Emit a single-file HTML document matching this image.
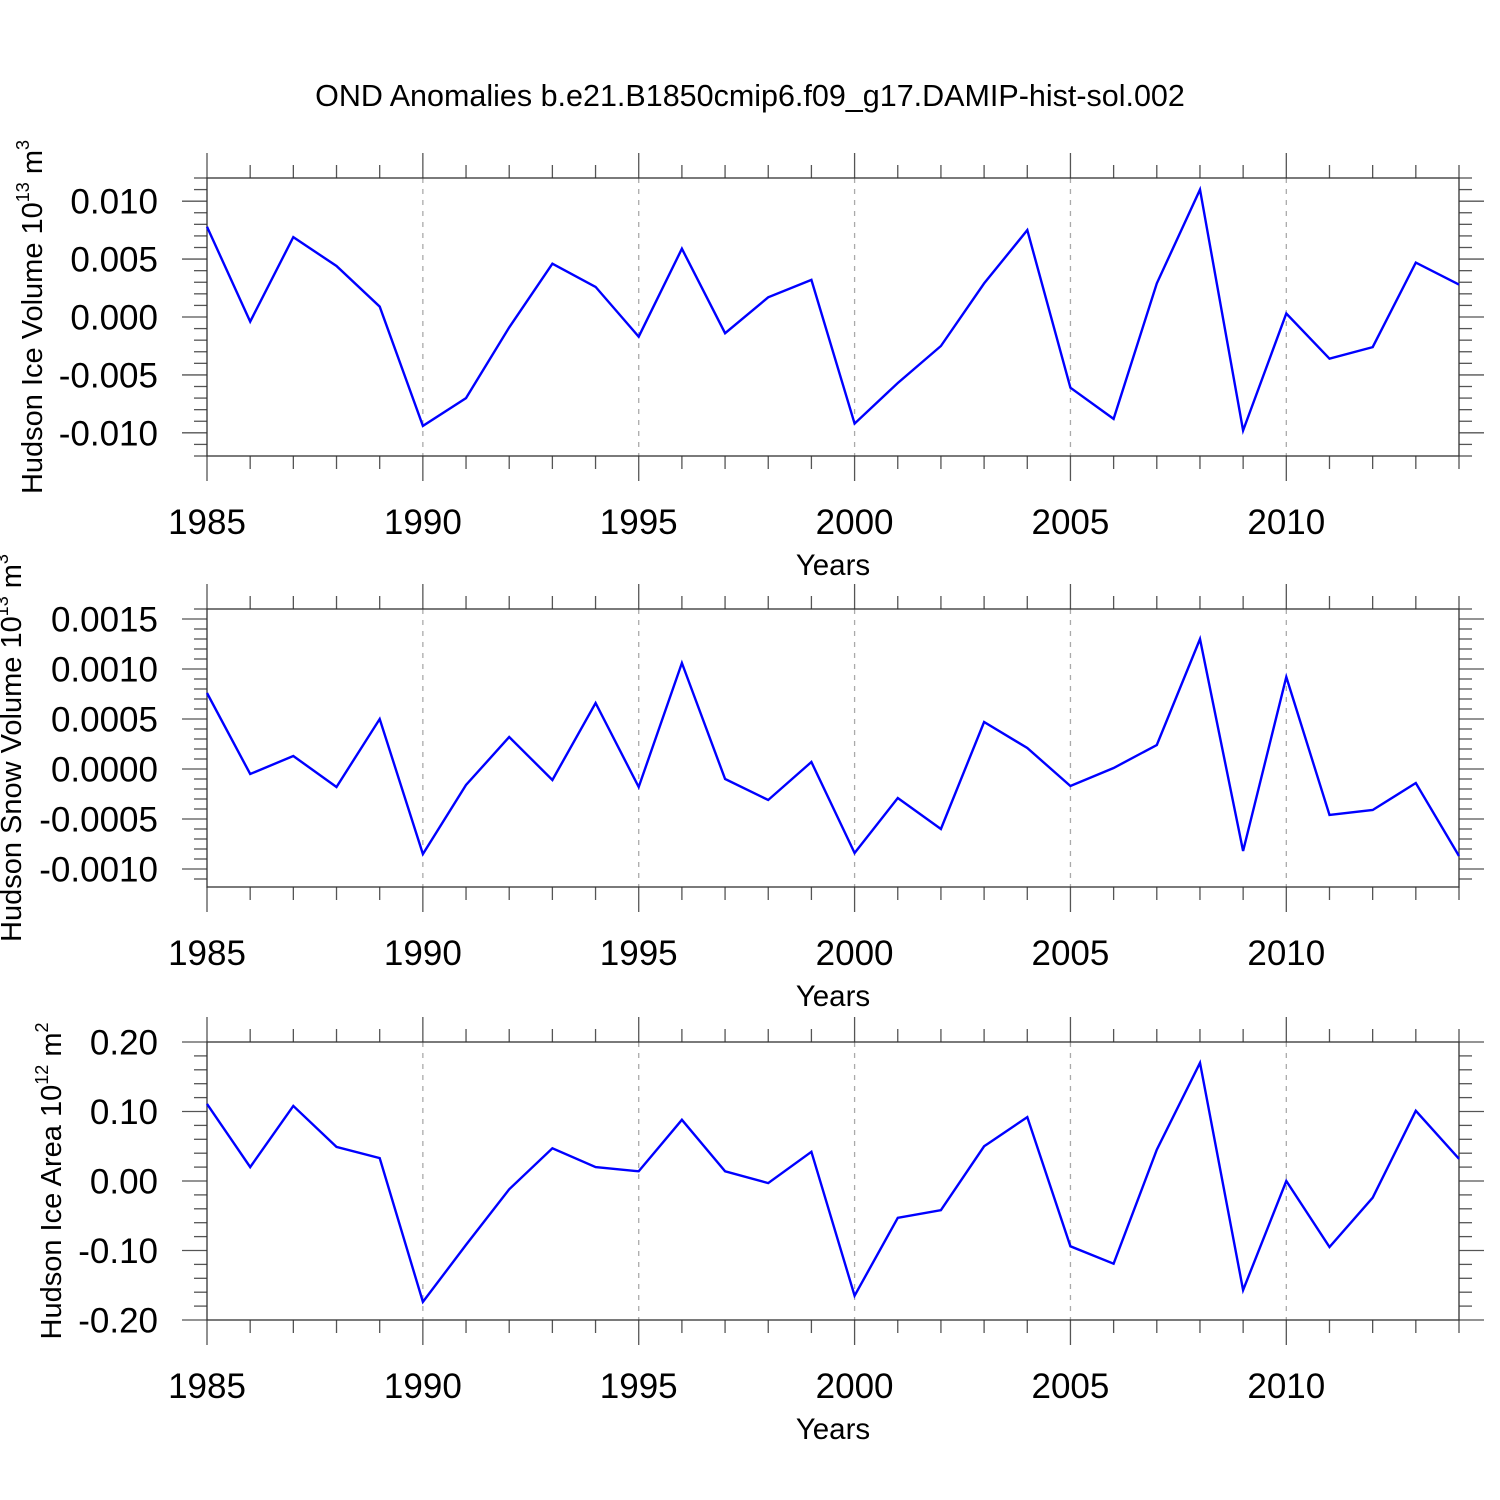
<!DOCTYPE html>
<html><head><meta charset="utf-8"><style>
html,body{margin:0;padding:0;background:#fff;}
svg{display:block;font-family:"Liberation Sans",sans-serif;}
</style></head><body>
<svg id="chart" width="1500" height="1500" viewBox="0 0 1500 1500" xmlns="http://www.w3.org/2000/svg">
<rect width="1500" height="1500" fill="#fff"/>
<text x="750" y="106" font-size="30.5" text-anchor="middle">OND Anomalies b.e21.B1850cmip6.f09_g17.DAMIP-hist-sol.002</text>
</svg>
<script>
const years = [1985,1986,1987,1988,1989,1990,1991,1992,1993,1994,1995,1996,1997,1998,1999,2000,2001,2002,2003,2004,2005,2006,2007,2008,2009,2010,2011,2012,2013,2014];
const iceVolume = [0.0078,-0.0004,0.0069,0.0044,0.0009,-0.0094,-0.0070,-0.0009,0.0046,0.0026,-0.0017,0.0059,-0.0014,0.0017,0.0032,-0.0092,-0.0057,-0.0025,0.0029,0.0075,-0.0061,-0.0088,0.0029,0.0110,-0.0098,0.0003,-0.0036,-0.0026,0.0047,0.0028];
const snowVolume = [0.00076,-0.00005,0.00013,-0.00018,0.00050,-0.00085,-0.00016,0.00032,-0.00011,0.00066,-0.00018,0.00106,-0.00010,-0.00031,0.00007,-0.00084,-0.00029,-0.00060,0.00047,0.00021,-0.00017,0.00001,0.00024,0.00130,-0.00082,0.00092,-0.00046,-0.00041,-0.00014,-0.00087];
const iceArea = [0.111,0.020,0.108,0.049,0.033,-0.174,-0.092,-0.012,0.047,0.020,0.014,0.088,0.014,-0.003,0.042,-0.165,-0.053,-0.042,0.050,0.092,-0.094,-0.119,0.045,0.170,-0.157,0.000,-0.095,-0.024,0.101,0.032];
const xTickLabels = ["1985","1990","1995","2000","2005","2010"];
const iceVolTicks = ["0.010","0.005","0.000","-0.005","-0.010"];
const snowTicks = ["0.0015","0.0010","0.0005","0.0000","-0.0005","-0.0010"];
const areaTicks = ["0.20","0.10","0.00","-0.10","-0.20"];

const NS="http://www.w3.org/2000/svg";
const svg=document.getElementById('chart');
function mk(tag,attrs,parent){const e=document.createElementNS(NS,tag);for(const k in attrs)e.setAttribute(k,attrs[k]);(parent||svg).appendChild(e);return e;}
const X0=207,X1=1459,XMIN=1985,XMAX=2014;
function xs(v){return X0+(v-XMIN)*(X1-X0)/(XMAX-XMIN);}

const panels=[
 {name:'ice-volume',data:iceVolume,ticks:iceVolTicks,top:178,bot:456,vmax:0.012,vmin:-0.012,minor:0.001,title:'Hudson Ice Volume 10',sup:'13',unit:' m',usup:'3',tx:42},
 {name:'snow-volume',data:snowVolume,ticks:snowTicks,top:609,bot:887,vmax:0.0016,vmin:-0.00118,minor:0.0001,title:'Hudson Snow Volume 10',sup:'13',unit:' m',usup:'3',tx:21},
 {name:'ice-area',data:iceArea,ticks:areaTicks,top:1042,bot:1320,vmax:0.2,vmin:-0.2,minor:0.02,title:'Hudson Ice Area 10',sup:'12',unit:' m',usup:'2',tx:61}
];
panels.forEach(p=>{
 const g=mk('g',{});
 
 
 const ys=v=>p.bot-(v-p.vmin)*(p.bot-p.top)/(p.vmax-p.vmin);
 for(let yr=1990;yr<=2010;yr+=5){
  const l=mk('line',{x1:xs(yr),x2:xs(yr),y1:p.top,y2:p.bot,stroke:'#aaa','stroke-width':1.3,'stroke-dasharray':'5,6'},g);
  
  
 }
 years.forEach(yr=>{
  const major=(yr%5===0);const L=major?25:13;
  mk('line',{x1:xs(yr),x2:xs(yr),y1:p.top,y2:p.top-L,stroke:'#555','stroke-width':1.3},g);
  mk('line',{x1:xs(yr),x2:xs(yr),y1:p.bot,y2:p.bot+L,stroke:'#555','stroke-width':1.3},g);
 });
 const start=Math.ceil(p.vmin/p.minor-1e-6);
 for(let i=start;i*p.minor<=p.vmax+1e-9;i++){
  const v=i*p.minor;const y=ys(v);
  const maj=p.ticks.some(t=>Math.abs(parseFloat(t)-v)<p.minor*0.01);
  const L=maj?25:13;
  mk('line',{x1:X0,x2:X0-L,y1:y,y2:y,stroke:'#555','stroke-width':1.3},g);
  mk('line',{x1:X1,x2:X1+L,y1:y,y2:y,stroke:'#555','stroke-width':1.3},g);
 }
 const fr=mk('rect',{x:X0,y:p.top,width:X1-X0,height:p.bot-p.top,fill:'none',stroke:'#333','stroke-width':1.3},g);
 
 
 p.ticks.forEach(t=>{
  const tx=mk('text',{x:158,y:ys(parseFloat(t))+12.5,'font-size':35,'text-anchor':'end'},g);
  
  
  tx.textContent=t;
 });
 xTickLabels.forEach(t=>{
  const tx=mk('text',{x:xs(parseFloat(t)),y:p.bot+78,'font-size':35,'text-anchor':'middle'},g);
  
  
  tx.textContent=t;
 });
 const xt=mk('text',{x:833,y:p.bot+119,'font-size':29.5,'text-anchor':'middle'},g);
 
 
 xt.textContent='Years';
 const cy=(p.top+p.bot)/2;
 const yt=mk('text',{x:0,y:0,'font-size':29,'text-anchor':'middle',transform:'translate('+p.tx+','+cy+') rotate(-90)'},g);
 
 
 const t1=mk('tspan',{},yt);t1.textContent=p.title;
 const t2=mk('tspan',{'font-size':18,dy:-13},yt);t2.textContent=p.sup;
 const t3=mk('tspan',{dy:13},yt);t3.textContent=p.unit;
 const t4=mk('tspan',{'font-size':18,dy:-13},yt);t4.textContent=p.usup;
 const pts=p.data.map((v,i)=>xs(years[i]).toFixed(1)+','+ys(v).toFixed(1)).join(' ');
 const pl=mk('polyline',{points:pts,fill:'none',stroke:'#0000ff','stroke-width':2.4,'stroke-linejoin':'miter'},g);
 
 
});
</script>
</body></html>
